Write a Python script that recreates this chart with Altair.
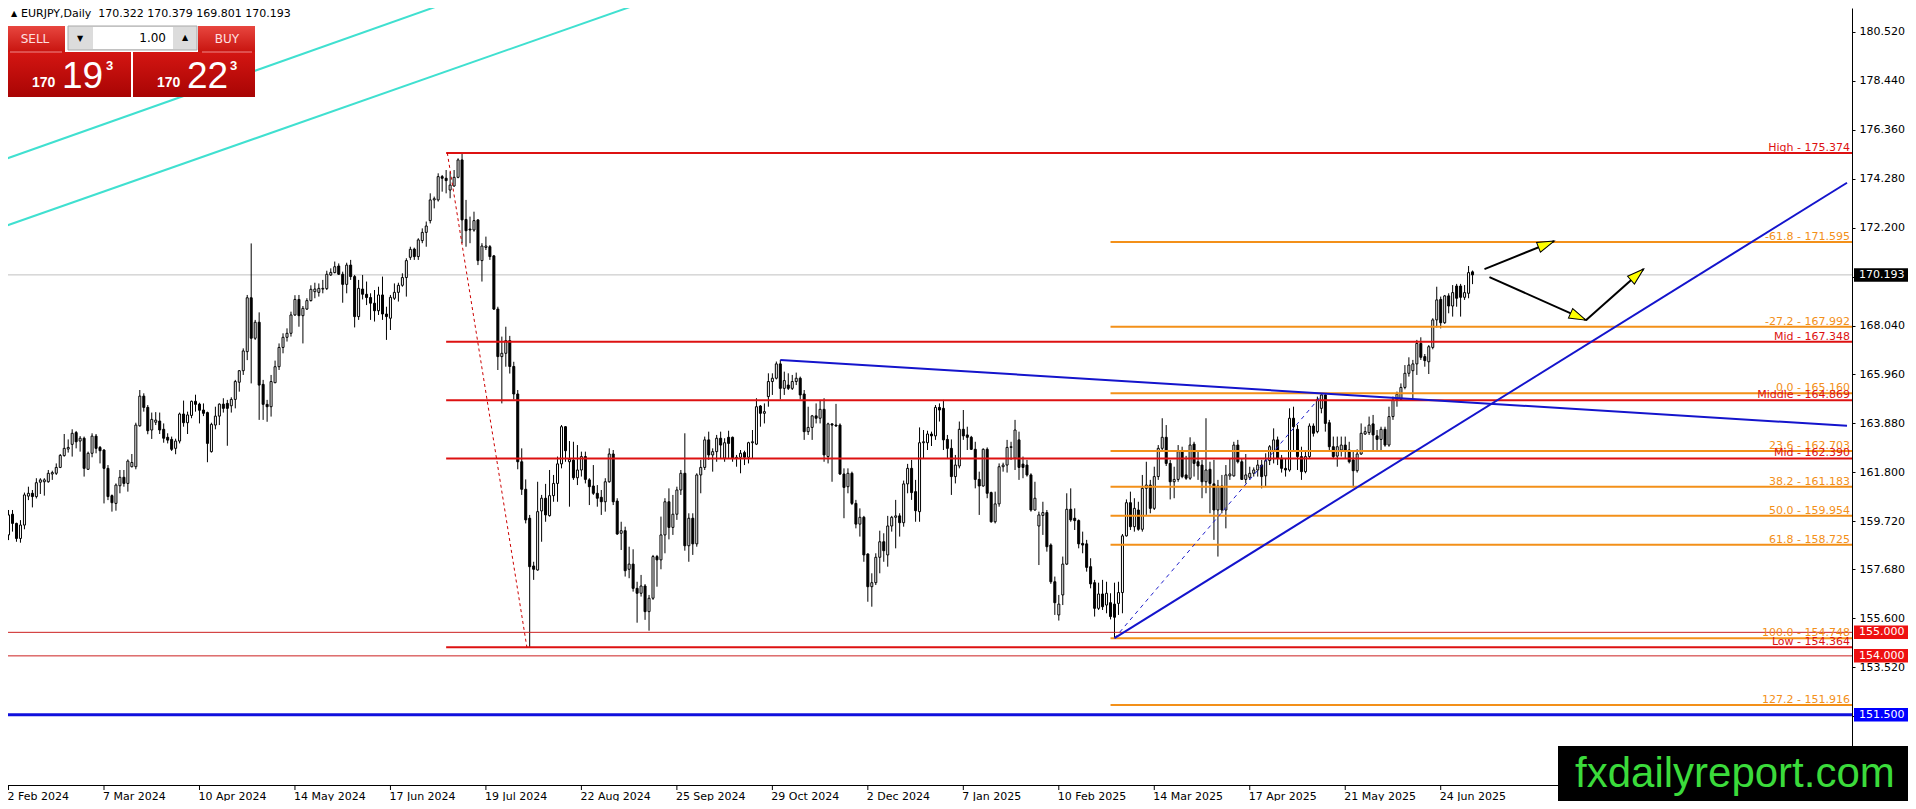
import math
import altair as alt
import pandas as pd

# ---------------- candle data, bar index 0 = 2 Feb 2024 ----------------
OPEN = [
159.14,160.02,159.63,158.99,159.56,160.79,160.91,160.77,161.38,161.40,
161.40,161.73,161.76,162.01,162.51,162.79,162.99,163.49,163.13,163.25,
161.93,162.61,163.34,162.86,162.75,161.97,160.81,160.48,161.23,161.59,
161.33,162.04,162.04,163.78,165.04,164.56,163.60,163.93,163.98,163.63,
163.29,163.20,162.82,163.13,164.28,163.91,164.22,164.82,164.70,164.45,
164.34,162.68,163.81,164.19,164.70,164.73,164.63,164.90,165.63,166.12,
166.93,169.22,167.50,168.18,165.54,164.69,164.59,165.61,166.29,167.11,
167.54,167.71,168.49,169.15,168.46,168.74,169.10,169.48,169.45,169.59,
169.61,170.19,170.29,170.57,170.22,169.79,170.61,170.12,168.42,169.59,
169.37,169.23,168.99,168.67,169.34,168.53,168.35,169.20,169.45,169.75,
170.08,170.94,171.29,170.97,171.65,172.00,172.50,173.38,173.38,174.37,
174.30,173.80,173.97,174.34,175.08,172.55,172.14,172.10,172.53,170.80,
171.36,171.39,171.00,168.74,166.72,166.86,167.40,166.30,165.13,162.25,
161.08,159.85,157.82,157.65,160.16,160.70,159.96,160.81,161.33,162.16,
163.74,162.25,162.32,161.57,161.90,162.47,161.48,161.22,160.91,160.74,
160.55,161.40,162.58,160.58,159.21,159.32,157.68,157.90,156.87,156.66,
156.97,155.88,156.45,158.22,158.08,159.14,160.55,159.46,160.02,161.05,
161.76,158.68,159.85,158.76,161.69,162.01,163.18,162.54,162.68,163.25,
162.40,163.29,163.29,162.40,162.44,162.64,162.44,163.06,163.00,164.62,
164.31,165.02,165.66,165.80,166.41,165.37,165.51,165.37,165.66,165.80,
165.13,163.53,163.71,164.20,164.10,164.48,162.47,163.86,163.81,163.81,
161.73,161.19,161.76,160.48,159.60,159.89,158.33,156.94,157.11,158.19,
158.85,158.29,159.52,159.89,159.95,159.66,161.31,161.97,160.98,160.13,
163.06,163.06,163.43,163.35,164.56,164.52,163.20,162.82,161.62,162.07,
163.63,163.39,163.29,162.78,161.50,161.22,162.78,160.94,159.70,160.46,
162.04,162.11,162.86,162.40,163.18,162.15,162.11,161.69,160.20,159.52,
159.97,160.09,158.71,157.15,155.74,156.59,157.90,160.23,159.85,159.75,
158.78,158.76,157.79,157.11,156.02,156.63,156.16,156.26,156.20,156.23,
156.69,159.10,160.51,159.49,160.20,159.38,161.12,161.26,160.27,161.62,
162.82,163.29,162.18,161.40,161.50,162.68,161.69,161.55,163.00,162.25,
162.11,161.40,161.93,161.31,160.20,161.22,160.20,161.65,161.65,162.96,
162.25,161.50,161.59,161.76,161.90,162.11,161.65,162.30,162.72,163.18,
162.40,161.97,161.90,164.10,163.63,162.47,161.83,162.47,163.77,163.53,
164.52,165.09,163.91,162.89,162.49,162.75,162.96,162.75,162.33,161.87,
162.58,163.43,163.49,163.86,163.35,163.20,163.63,162.96,164.17,164.88,
164.90,165.41,166.01,166.12,166.41,167.28,166.72,166.50,167.11,168.28,
169.15,168.16,169.30,168.87,169.72,169.72,169.24,169.41,170.322]

HIGH = [
160.20,160.20,159.66,159.77,160.94,161.19,161.05,161.55,161.55,161.55,
161.90,161.87,162.18,162.58,163.43,163.20,163.63,163.56,163.34,163.32,
162.68,163.46,163.43,162.92,162.78,162.11,160.86,161.33,161.90,161.90,
162.35,162.58,163.91,165.30,165.16,164.66,164.34,164.36,164.34,163.88,
163.46,163.32,163.23,164.34,164.85,164.38,164.85,165.10,164.76,164.73,
164.38,163.91,164.59,164.73,164.95,164.88,164.99,165.73,166.15,167.07,
169.34,171.53,168.28,168.60,165.73,164.88,165.94,166.55,167.28,167.71,
167.92,168.63,169.33,169.34,168.87,169.20,169.75,169.86,169.83,169.98,
170.37,170.47,170.76,170.68,170.33,170.71,170.83,170.19,169.98,170.19,
169.91,169.41,169.55,169.69,170.12,168.84,169.34,169.83,169.86,170.26,
170.90,171.39,171.35,171.75,172.17,172.46,173.66,173.52,174.51,174.44,
174.65,174.58,174.65,175.15,175.374,173.38,172.67,172.88,172.55,171.54,
171.82,171.46,171.04,168.84,167.57,167.99,167.60,166.50,165.30,162.82,
161.50,159.99,158.00,161.40,160.84,161.31,161.90,161.69,162.47,163.81,
163.77,163.13,163.10,162.96,162.68,162.68,161.55,162.11,161.26,161.05,
161.55,162.82,162.75,160.70,159.70,159.49,158.64,158.53,157.15,157.44,
157.05,156.59,158.29,158.29,159.92,160.70,161.12,160.84,161.19,161.90,
163.46,160.06,160.06,161.76,162.33,163.32,163.53,162.82,163.39,163.53,
163.25,163.57,163.32,162.54,162.75,162.72,163.10,163.60,164.95,164.66,
164.73,166.01,166.01,166.51,166.58,166.08,166.01,165.94,166.04,165.87,
165.30,164.59,164.24,164.73,164.88,164.95,163.91,163.88,164.71,163.88,
161.97,161.97,161.83,160.63,160.27,159.95,158.36,157.51,158.36,159.32,
159.21,159.95,159.95,160.63,160.06,161.45,162.16,162.33,161.48,163.71,
163.60,163.57,163.53,164.66,164.73,164.88,163.39,163.20,162.54,163.96,
164.45,163.74,163.35,163.10,161.83,162.82,162.86,160.98,160.98,162.18,
162.21,163.18,163.10,164.03,163.53,162.47,162.33,161.76,161.40,160.13,
160.55,160.20,158.78,157.37,156.59,158.22,160.91,161.12,160.27,159.80,
159.28,158.93,158.15,157.23,157.11,157.23,157.15,156.66,157.11,157.15,
159.18,160.65,160.98,160.70,160.55,161.69,162.25,161.48,162.04,162.96,
164.10,163.81,162.33,162.04,162.96,162.89,162.50,163.29,163.10,162.68,
162.33,164.10,162.25,162.33,161.48,161.69,162.11,162.40,163.10,163.18,
162.40,162.58,162.04,162.01,162.33,162.33,162.61,162.96,163.67,163.32,
162.54,162.40,164.52,164.59,163.81,162.89,162.75,163.88,163.88,165.02,
165.13,165.13,164.03,163.32,163.32,163.32,163.32,163.10,162.75,162.78,
163.88,163.74,164.17,164.24,163.60,163.74,163.74,164.59,165.02,165.23,
165.58,166.36,166.69,166.58,167.43,167.54,166.83,167.21,168.35,169.69,
169.27,169.34,169.41,169.76,169.81,169.81,169.76,170.57,170.379]

LOW = [
158.92,159.28,158.85,158.81,159.38,160.62,160.31,160.69,160.88,160.81,
161.36,161.48,161.69,161.98,162.47,162.64,162.47,162.82,162.68,161.62,
161.90,162.44,162.61,162.18,160.48,160.62,160.13,160.17,160.91,161.19,
160.98,162.01,161.93,163.74,164.38,163.42,163.22,163.81,163.43,163.06,
163.03,162.71,162.57,163.03,163.74,163.43,164.10,164.38,163.88,164.19,
162.23,162.64,163.63,163.81,164.34,162.93,164.34,164.52,165.23,165.94,
166.57,165.58,167.43,164.03,164.03,163.95,164.17,165.59,166.15,166.86,
167.36,167.57,168.45,167.99,167.28,168.70,169.06,169.20,169.27,169.41,
169.55,170.15,170.26,170.19,169.01,169.41,169.98,167.96,168.28,169.15,
168.91,168.28,168.21,168.49,168.28,167.43,167.85,169.13,169.06,169.69,
169.27,170.83,170.83,170.83,171.54,171.39,172.38,173.02,173.31,173.73,
173.66,173.45,173.94,174.30,171.54,171.39,171.54,172.03,170.61,169.91,
171.25,170.83,168.70,166.15,164.73,166.29,166.00,164.90,161.93,160.84,
159.63,154.364,157.23,157.62,158.85,159.70,159.92,160.55,160.55,161.97,
162.25,160.34,161.48,161.26,161.62,161.33,160.41,160.84,160.34,159.99,
160.13,161.36,160.41,159.14,158.50,157.37,157.30,156.73,155.41,156.52,
155.53,155.07,156.38,156.94,157.68,158.36,158.95,159.14,159.78,160.84,
158.47,158.00,158.29,158.64,160.91,161.90,162.33,161.83,162.25,162.40,
162.25,162.40,162.25,162.04,161.76,162.11,162.18,162.40,162.96,163.74,
163.88,164.59,165.09,165.75,164.90,165.09,165.30,165.30,165.51,164.90,
163.18,163.39,163.18,163.88,163.88,162.25,162.18,161.40,163.74,161.69,
159.85,160.91,160.41,159.42,159.07,158.00,156.30,156.09,157.01,157.51,
158.00,157.79,159.28,158.57,159.07,159.49,160.91,160.63,159.70,159.70,
162.40,162.75,162.92,163.18,163.96,162.75,162.40,160.84,161.33,161.97,
163.18,162.75,162.75,161.12,159.99,161.19,160.70,159.66,159.63,160.34,
161.83,161.79,162.33,161.90,161.48,161.55,161.62,160.13,160.17,157.86,
159.14,158.43,157.06,155.74,155.50,156.16,157.86,159.70,159.35,158.57,
158.36,157.58,156.87,155.67,155.95,155.95,155.81,155.55,154.748,155.74,
155.81,159.07,159.35,159.28,159.32,159.28,159.99,160.06,160.20,161.48,
162.68,162.07,160.65,160.70,161.40,161.55,161.48,161.48,161.62,161.48,
160.70,160.91,160.06,158.93,158.22,160.06,159.42,161.48,161.62,162.18,
161.48,161.33,161.48,161.62,161.62,161.12,161.19,162.11,162.18,162.11,
161.79,161.62,161.83,162.75,161.90,161.48,161.76,162.40,163.32,163.46,
164.31,163.53,162.68,162.40,162.04,162.47,162.40,162.18,161.16,161.79,
162.54,163.39,163.39,162.75,162.75,162.75,162.89,162.89,164.03,164.59,
164.85,165.33,165.87,164.95,165.94,166.58,166.29,165.98,167.03,167.96,
167.92,168.11,168.56,168.42,168.84,168.42,169.13,169.20,169.801]

CLOSE = [
159.99,159.63,158.99,159.56,160.84,160.91,160.77,161.36,161.48,161.48,
161.76,161.79,162.01,162.52,162.82,162.86,163.46,163.10,163.25,161.97,
162.61,163.34,162.82,162.72,161.97,160.77,160.51,161.26,161.59,161.33,
162.28,162.22,163.81,165.04,164.56,163.57,164.05,164.02,163.60,163.25,
163.17,162.78,163.13,164.28,163.91,164.24,164.82,164.69,164.44,164.31,
163.03,163.84,164.19,164.70,164.52,164.52,164.90,165.66,166.12,166.96,
169.22,167.50,168.18,165.51,164.69,164.59,165.66,166.29,167.11,167.54,
167.71,168.49,169.15,168.46,168.77,169.10,169.58,169.59,169.62,169.62,
170.22,170.30,170.54,170.22,169.79,170.61,170.12,168.42,169.62,169.37,
169.23,168.99,168.67,169.34,168.53,168.42,169.24,169.45,169.75,170.08,
170.80,171.28,170.97,171.68,172.00,172.27,173.38,173.43,174.37,174.30,
174.20,174.01,174.34,175.08,172.53,172.07,172.10,172.50,170.80,171.42,
171.42,170.97,168.74,166.72,166.86,167.40,166.30,165.13,162.25,161.08,
159.78,157.79,157.68,160.13,160.70,159.99,160.81,161.33,162.16,163.74,
162.72,162.35,161.57,161.90,162.47,161.50,161.19,160.91,160.70,160.55,
161.40,162.58,160.55,159.18,159.32,157.62,157.90,156.87,156.66,156.97,
155.88,156.45,158.22,158.08,159.14,160.55,159.46,160.02,161.05,161.76,
158.68,159.85,158.76,161.69,162.01,163.18,162.54,162.68,163.25,162.96,
163.06,163.03,162.40,162.44,162.61,162.44,163.06,163.10,164.59,164.31,
164.38,165.66,165.80,166.41,165.37,165.70,165.37,165.66,165.80,165.09,
163.53,163.71,164.20,164.10,164.48,162.54,163.86,163.81,163.77,161.73,
161.16,161.76,160.48,159.60,159.89,158.29,156.94,157.11,158.19,158.85,
158.47,159.52,159.89,159.95,159.66,161.31,161.97,160.94,160.17,163.06,
163.10,163.43,163.35,164.56,164.45,163.18,162.82,161.62,162.11,163.63,
163.35,163.29,162.78,161.50,161.22,162.78,160.91,159.70,160.46,162.04,
162.11,162.86,162.89,163.60,162.01,162.01,161.69,160.20,160.70,159.99,
160.09,158.64,157.15,156.26,156.20,157.90,160.23,159.78,159.75,158.76,
158.71,157.76,157.06,156.02,156.63,156.09,156.66,155.67,155.64,156.69,
159.10,160.51,159.49,160.27,159.38,161.12,161.26,160.27,161.62,162.82,
163.29,162.18,161.40,161.50,162.68,161.62,161.55,162.96,162.18,162.07,
161.40,161.90,161.33,160.20,161.22,160.20,161.69,161.73,162.96,162.25,
161.50,161.69,161.76,161.90,162.11,161.62,162.30,162.89,163.18,162.40,
161.97,161.90,164.10,163.74,162.47,161.83,162.47,163.77,163.46,164.90,
165.09,163.88,162.89,162.47,162.89,162.96,162.75,162.25,161.87,162.58,
163.46,163.53,163.81,163.39,163.20,163.63,162.96,164.17,164.88,165.12,
165.41,166.01,166.36,166.41,167.28,166.69,166.55,167.14,168.28,169.13,
168.16,169.30,168.87,169.44,169.20,169.24,169.44,170.29,170.193]

# ---------------- axis labels ----------------
DATE_IDX = [0, 24, 48, 72, 96, 120, 144, 168, 192, 216, 240, 264, 288, 312, 336, 360]
DATE_TXT = ["2 Feb 2024", "7 Mar 2024", "10 Apr 2024", "14 May 2024", "17 Jun 2024",
            "19 Jul 2024", "22 Aug 2024", "25 Sep 2024", "29 Oct 2024", "2 Dec 2024",
            "7 Jan 2025", "10 Feb 2025", "14 Mar 2025", "17 Apr 2025", "21 May 2025",
            "24 Jun 2025"]
PRICE_TICKS = [180.52, 178.44, 176.36, 174.28, 172.2, 170.12, 168.04, 165.96, 163.88,
               161.8, 159.72, 157.68, 155.6, 153.52, 151.44, 149.36]

# ---------------- drawn objects ----------------
RED_LEVELS = [175.374, 167.348, 164.869, 162.390, 154.364]
RED_TEXT = ["High - 175.374", "Mid - 167.348", "Middle - 164.869", "Mid - 162.390", "Low - 154.364"]
RED_START = 110
FIB_LEVELS = [171.595, 167.992, 165.160, 162.703, 161.183, 159.954, 158.725, 154.748, 151.916]
FIB_TEXT = ["-61.8 - 171.595", "-27.2 - 167.992", "0.0 - 165.160", "23.6 - 162.703",
            "38.2 - 161.183", "50.0 - 159.954", "61.8 - 158.725", "100.0 - 154.748",
            "127.2 - 151.916"]
FIB_START = 277
THIN_RED = [155.000, 154.000]
BLUE_LEVEL = [151.500]
CURRENT = [170.193]

TREND_I0 = [194.0, 278.0]
TREND_P0 = [166.58, 154.75]
TREND_I1 = [462.125, 462.125]
TREND_P1 = [163.78, 174.11]

CHAN_I0 = [-0.75, -0.75]
CHAN_P0 = [175.12, 172.27]
CHAN_I1 = [112.25, 161.25]
CHAN_P1 = [181.88, 181.88]

DOT_I = [110.3, 130.3]
DOT_P = [175.374, 154.364]
FIBDIAG_I = [278.0, 330.5]
FIBDIAG_P = [154.748, 165.160]

ARROW_I0 = [371.0, 372.25, 396.5]
ARROW_P0 = [170.44, 170.10, 168.27]
ARROW_I1 = [388.5, 396.5, 411.0]
ARROW_P1 = [171.63, 168.27, 170.44]

TAG_P = [155.000, 154.000, 151.500, 170.193]
TAG_TXT = ["155.000", "154.000", "151.500", "170.193"]
TAG_COL = ["#ee1111", "#ee1111", "#0000ff", "#000000"]

# ---------------- geometry / style ----------------
W, H = 1844, 777
X0, X1 = 1.125, 462.125
Y0, Y1 = 148.511, 181.537
PX = (Y1 - Y0) / H          # price per pixel
FONT = "DejaVu Sans"
RED = "#dd1111"
ORANGE = "#f39019"
BLUE = "#1414cc"

xs = alt.Scale(domain=[X0, X1], nice=False, zero=False)
ys = alt.Scale(domain=[Y0, Y1], nice=False, zero=False)
XAX = alt.Axis(domain=True, domainColor="#000000", domainWidth=1, labels=False,
               ticks=False, grid=False, title=None)
YAX = alt.Axis(orient="right", values=PRICE_TICKS, format=".3f", domain=True,
               domainColor="#000000", domainWidth=1, ticks=True, tickColor="#000000",
               tickSize=3, labelPadding=4, labelFont=FONT, labelFontSize=11,
               labelColor="#000000", labelOverlap=False, grid=False, title=None)


def X(f):
    return alt.X(f, type="quantitative", scale=xs, axis=XAX)


def Y(f):
    return alt.Y(f, type="quantitative", scale=ys, axis=YAX)


ONE = pd.DataFrame({"k": [0]})

bars = pd.DataFrame({"i": list(range(len(CLOSE))), "o": OPEN, "h": HIGH, "l": LOW, "c": CLOSE})
bars["fill"] = ["#ffffff" if c >= o else "#000000" for o, c in zip(bars.o, bars.c)]

layers = []

# current price line
layers.append(alt.Chart(pd.DataFrame({"p": CURRENT})).mark_rule(color="#c0c0c0", strokeWidth=1)
              .encode(y=Y("p"), x=alt.value(0), x2=alt.value(W)))

# candles
layers.append(alt.Chart(bars).mark_rule(color="#000000", strokeWidth=1, clip=True)
              .encode(x=X("i"), y=Y("l"), y2=alt.Y2("h")))
layers.append(alt.Chart(bars).mark_bar(size=2, stroke="#000000", strokeWidth=1, clip=True)
              .encode(x=X("i"), y=Y("o"), y2=alt.Y2("c"), fill=alt.Fill("fill:N", scale=None)))

# cyan channel
chan = pd.DataFrame({"a": CHAN_I0, "b": CHAN_I1, "p": CHAN_P0, "q": CHAN_P1})
layers.append(alt.Chart(chan).mark_rule(color="#40e0d0", strokeWidth=2, clip=True)
              .encode(x=X("a"), x2=alt.X2("b"), y=Y("p"), y2=alt.Y2("q")))

# thin full-width lines
layers.append(alt.Chart(pd.DataFrame({"p": THIN_RED})).mark_rule(color="#cc2020", strokeWidth=1)
              .encode(y=Y("p"), x=alt.value(0), x2=alt.value(W)))
layers.append(alt.Chart(pd.DataFrame({"p": BLUE_LEVEL})).mark_rule(color="#1010dd", strokeWidth=3)
              .encode(y=Y("p"), x=alt.value(0), x2=alt.value(W)))

# fib and red level lines
fib = pd.DataFrame({"p": FIB_LEVELS, "t": FIB_TEXT, "a": [FIB_START] * len(FIB_LEVELS)})
red = pd.DataFrame({"p": RED_LEVELS, "t": RED_TEXT, "a": [RED_START] * len(RED_LEVELS)})
layers.append(alt.Chart(fib).mark_rule(color=ORANGE, strokeWidth=2)
              .encode(x=X("a"), x2=alt.value(W), y=Y("p")))
layers.append(alt.Chart(red).mark_rule(color=RED, strokeWidth=2)
              .encode(x=X("a"), x2=alt.value(W), y=Y("p")))

# dotted / dashed diagonals
dot = pd.DataFrame({"a": [DOT_I[0]], "b": [DOT_I[1]], "p": [DOT_P[0]], "q": [DOT_P[1]]})
layers.append(alt.Chart(dot).mark_rule(color="#cc0000", strokeWidth=1, strokeDash=[3, 3])
              .encode(x=X("a"), x2=alt.X2("b"), y=Y("p"), y2=alt.Y2("q")))
fd = pd.DataFrame({"a": [FIBDIAG_I[0]], "b": [FIBDIAG_I[1]], "p": [FIBDIAG_P[0]], "q": [FIBDIAG_P[1]]})
layers.append(alt.Chart(fd).mark_rule(color="#2020cc", strokeWidth=1, strokeDash=[4, 4])
              .encode(x=X("a"), x2=alt.X2("b"), y=Y("p"), y2=alt.Y2("q")))

# blue trend lines
tr = pd.DataFrame({"a": TREND_I0, "b": TREND_I1, "p": TREND_P0, "q": TREND_P1})
layers.append(alt.Chart(tr).mark_rule(color=BLUE, strokeWidth=2)
              .encode(x=X("a"), x2=alt.X2("b"), y=Y("p"), y2=alt.Y2("q")))

# level labels
layers.append(alt.Chart(fib).mark_text(align="right", baseline="alphabetic", dy=-2, font=FONT,
                                       fontSize=11, color=ORANGE)
              .encode(x=alt.value(W - 2), y=Y("p"), text="t:N"))
layers.append(alt.Chart(red).mark_text(align="right", baseline="alphabetic", dy=-2, font=FONT,
                                       fontSize=11, color=RED)
              .encode(x=alt.value(W - 2), y=Y("p"), text="t:N"))

# arrows
arr = pd.DataFrame({"a": ARROW_I0, "b": ARROW_I1, "p": ARROW_P0, "q": ARROW_P1})
arr["ang"] = [math.degrees(math.atan2(-(q - p) / PX, (b - a) * (W / (X1 - X0)))) % 360
              for a, b, p, q in zip(arr.a, arr.b, arr.p, arr.q)]
layers.append(alt.Chart(arr).mark_rule(color="#000000", strokeWidth=2)
              .encode(x=X("a"), x2=alt.X2("b"), y=Y("p"), y2=alt.Y2("q")))
HEAD = "M0,0L-2.1,-0.65L-2.1,0.65Z"
layers.append(alt.Chart(arr).mark_point(shape=HEAD, size=256, filled=True, fill="#ffff00",
                                        stroke="#000000", strokeWidth=1, opacity=1)
              .encode(x=X("b"), y=Y("q"), angle=alt.Angle("ang:Q", scale=None)))

# date axis ticks & labels
dates = pd.DataFrame({"i": DATE_IDX, "t": DATE_TXT})
layers.append(alt.Chart(dates).mark_rule(color="#000000", strokeWidth=1)
              .encode(x=X("i"), y=alt.value(H), y2=alt.value(H + 5)))
layers.append(alt.Chart(dates).mark_text(align="left", baseline="middle", dx=-1, font=FONT,
                                         fontSize=11, color="#000000")
              .encode(x=X("i"), y=alt.value(H + 11.5), text="t:N"))


# ---------------- trading panel (top-left) ----------------
def box(x, x2, y, y2, **mk):
    return alt.Chart(ONE).mark_rect(**mk).encode(x=alt.value(x), x2=alt.value(x2),
                                                 y=alt.value(y), y2=alt.value(y2))


def label(x, y, text, **mk):
    return alt.Chart(ONE).mark_text(**mk).encode(x=alt.value(x), y=alt.value(y),
                                                 text=alt.value(text))


btn = alt.Gradient(gradient="linear", x1=0, x2=0, y1=0, y2=1,
                   stops=[alt.GradientStop(color="#e8463f", offset=0),
                          alt.GradientStop(color="#c8140f", offset=1)])
big = alt.Gradient(gradient="linear", x1=0, x2=0, y1=0, y2=1,
                   stops=[alt.GradientStop(color="#d41612", offset=0),
                          alt.GradientStop(color="#a80404", offset=1)])
layers += [
    box(-1, 57, 18, 44, color=btn),
    box(190, 247, 18, 44, color=btn),
    box(-1, 123, 44, 89, color=big),
    box(125, 247, 44, 89, color=big),
    box(2, 54, 43.5, 44.5, color="#f08a8a"),
    box(194, 244, 43.5, 44.5, color="#f08a8a"),
    box(60, 189, 18, 42, color="#dcdcdc", stroke="#a8a8a8", strokeWidth=1),
    box(85, 165, 19, 41, color="#ffffff"),
    label(72, 31, "\u25bc", font=FONT, fontSize=8, color="#000000", align="center", baseline="middle"),
    label(177, 30, "\u25b2", font=FONT, fontSize=8, color="#000000", align="center", baseline="middle"),
    label(158, 30, "1.00", font=FONT, fontSize=12, color="#000000", align="right", baseline="middle"),
    label(27, 31, "SELL", font=FONT, fontSize=12, color="#ffe0e0", align="center", baseline="middle"),
    label(219, 31, "BUY", font=FONT, fontSize=12, color="#ffe0e0", align="center", baseline="middle"),
    label(24, 79, "170", font="Liberation Sans", fontSize=14, fontWeight="bold", color="#ffffff",
          align="left", baseline="alphabetic"),
    label(54, 80, "19", font="Liberation Sans", fontSize=37, color="#ffffff",
          align="left", baseline="alphabetic"),
    label(98, 62, "3", font="Liberation Sans", fontSize=13, fontWeight="bold", color="#ffffff",
          align="left", baseline="alphabetic"),
    label(149, 79, "170", font="Liberation Sans", fontSize=14, fontWeight="bold", color="#ffffff",
          align="left", baseline="alphabetic"),
    label(179, 80, "22", font="Liberation Sans", fontSize=37, color="#ffffff",
          align="left", baseline="alphabetic"),
    label(222, 62, "3", font="Liberation Sans", fontSize=13, fontWeight="bold", color="#ffffff",
          align="left", baseline="alphabetic"),
    label(3, 5.5, "\u25b2", font=FONT, fontSize=8, color="#000000", align="left", baseline="middle"),
    label(13, 5.5, "EURJPY,Daily\u00a0\u00a0170.322 170.379 169.801 170.193", font=FONT, fontSize=11,
          color="#000000", align="left", baseline="middle"),
]

# ---------------- watermark ----------------
layers.append(box(1550, 1900, 738, 801, color="#000000"))
layers.append(label(1567, 779, "fxdailyreport.com", font="Liberation Sans", fontSize=42,
                    color="#3bdb3b", align="left", baseline="alphabetic"))

# ---------------- price tags on the right axis ----------------
tags = pd.DataFrame({"p": TAG_P, "t": TAG_TXT, "col": TAG_COL})
TAG_SHAPE = "M-1,-0.245H1V0.245H-1Z"
layers.append(alt.Chart(tags).mark_point(shape=TAG_SHAPE, size=3025, filled=True, opacity=1,
                                         strokeWidth=0)
              .encode(x=alt.value(W + 29.5), y=Y("p"), fill=alt.Fill("col:N", scale=None)))
layers.append(alt.Chart(tags).mark_text(align="left", baseline="middle", font=FONT, fontSize=11,
                                        color="#ffffff")
              .encode(x=alt.value(W + 7), y=Y("p"), text="t:N"))

chart = alt.layer(*layers).properties(
    width=W, height=H,
    autosize=alt.AutoSizeParams(type="none"),
    padding={"left": 0, "top": 0, "right": 56, "bottom": 16},
    background="#ffffff",
).configure_view(stroke=None)

chart.save("out.html", embed_options={"renderer": "svg", "actions": False})
